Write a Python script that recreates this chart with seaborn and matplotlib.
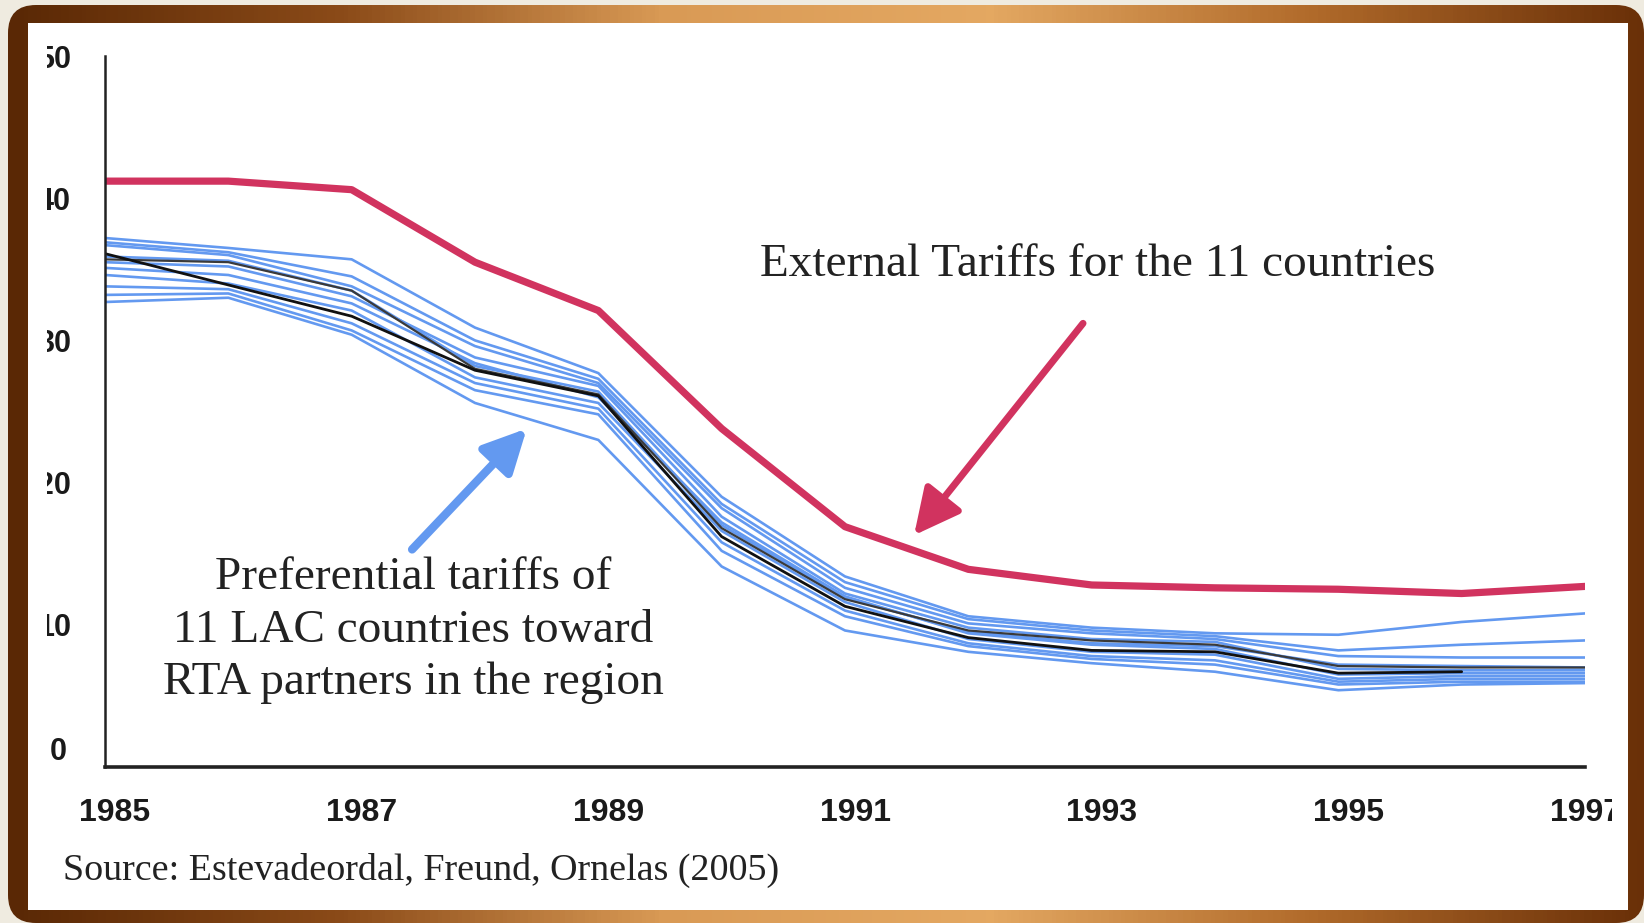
import numpy as np
import pandas as pd
import matplotlib
matplotlib.use('Agg')
import matplotlib.pyplot as plt
import seaborn as sns
from matplotlib.patches import FancyBboxPatch, Rectangle
from matplotlib.colors import LinearSegmentedColormap
from matplotlib.transforms import ScaledTranslation

years = list(range(1985, 1998))
tick_years = [1985, 1987, 1989, 1991, 1993, 1995, 1997]
y_ticks = [0, 10, 20, 30, 40, 50]

# external tariff (red) and regional average (black)
external = [41.2, 41.2, 40.6, 35.5, 32.1, 23.8, 16.9, 13.9, 12.8, 12.6, 12.5, 12.2, 12.7]
average = [36.1, 33.9, 31.7, 27.9, 26.1, 16.2, 11.3, 9.1, 8.2, 8.1, 6.6, 6.7, np.nan]

# preferential tariffs, one list per country
country_01 = [37.2, 36.5, 35.7, 30.9, 27.7, 19.0, 13.4, 10.6, 9.8, 9.4, 9.3, 10.2, 10.8]
country_02 = [36.9, 36.2, 34.5, 30.0, 27.3, 18.5, 13.0, 10.4, 9.6, 9.2, 8.2, 8.6, 8.9]
country_03 = [36.7, 36.0, 33.8, 29.6, 27.0, 18.2, 12.6, 10.1, 9.4, 9.0, 7.8, 7.7, 7.7]
country_04 = [35.9, 35.6, 33.5, 28.2, 26.4, 17.0, 11.9, 9.5, 8.7, 8.5, 7.2, 7.1, 7.0]
country_05 = [35.5, 35.2, 33.1, 28.8, 26.8, 17.6, 12.2, 9.8, 9.0, 8.8, 6.9, 6.8, 6.8]
country_06 = [35.1, 34.6, 32.6, 28.4, 26.0, 17.2, 12.0, 9.4, 8.6, 8.3, 6.5, 6.6, 6.6]
country_07 = [34.6, 34.0, 32.1, 27.4, 25.6, 16.6, 11.6, 9.0, 8.1, 7.9, 6.2, 6.4, 6.4]
country_08 = [33.8, 33.6, 31.2, 27.0, 25.2, 15.8, 11.0, 8.7, 7.8, 7.5, 6.0, 6.2, 6.2]
country_09 = [33.2, 33.3, 30.7, 26.5, 24.8, 15.2, 10.6, 8.5, 7.6, 7.2, 5.8, 6.0, 6.0]
country_10 = [32.7, 33.0, 30.4, 25.6, 23.0, 14.1, 9.6, 8.1, 7.3, 6.7, 5.4, 5.8, 5.9]
country_11 = [35.7, 35.5, 33.5, 28.0, 26.2, 16.8, 11.8, 9.6, 8.9, 8.6, 7.1, 7.0, 7.0]

blue_countries = [country_01, country_02, country_03, country_05, country_06,
                  country_07, country_08, country_09, country_10, country_04]

blue_df = pd.DataFrame({
    'year': years * len(blue_countries),
    'tariff': [v for c in blue_countries for v in c],
    'country': [i for i in range(len(blue_countries)) for _ in years],
})
dark_df = pd.DataFrame({'year': years, 'tariff': country_11})
avg_df = pd.DataFrame({'year': years, 'tariff': average}).dropna()
ext_df = pd.DataFrame({'year': years, 'tariff': external})

RED = '#d1335f'
BLUE = '#6399f0'
FRAME_RIGHT = '#6a3008'

sns.set_style('white')
plt.rcParams['font.family'] = ['Liberation Sans', 'DejaVu Sans']

W, H = 1644, 923
fig = plt.figure(figsize=(W / 100, H / 100), dpi=100)
fig.patch.set_facecolor('#efebe0')

# slide frame
bg = fig.add_axes([0, 0, 1, 1], zorder=-10)
bg.set_xlim(0, W)
bg.set_ylim(H, 0)
bg.axis('off')
frame_cmap = LinearSegmentedColormap.from_list(
    'frame', ['#5a2805', '#8a4a18', '#d99a55', '#e4a862', '#b06a2a', FRAME_RIGHT])
grad = np.linspace(0, 1, 400).reshape(1, -1)
im = bg.imshow(grad, cmap=frame_cmap, aspect='auto', extent=(8, W, H, 5))
outer = FancyBboxPatch((8, 5), W - 8, H - 5, boxstyle='round,pad=0,rounding_size=28',
                       facecolor='none', edgecolor='none', transform=bg.transData)
bg.add_patch(outer)
im.set_clip_path(outer)
bg.add_patch(Rectangle((28, 23), 1600, 887, facecolor='white', edgecolor='none'))

ax = fig.add_axes([105 / W, 1 - 767 / H, (1585 - 105) / W, (767 - 56) / H])
ax.set_facecolor('none')

sns.lineplot(data=blue_df, x='year', y='tariff', units='country', estimator=None,
             color=BLUE, lw=1.9, ax=ax, legend=False)
sns.lineplot(data=dark_df, x='year', y='tariff', color='#3a3a3a', lw=1.6, ax=ax)
sns.lineplot(data=avg_df, x='year', y='tariff', color='#111111', lw=2.0, ax=ax)
sns.lineplot(data=ext_df, x='year', y='tariff', color=RED, lw=5.2, ax=ax)

ax.set_xlim(1985, 1997)
ax.set_ylim(0, 50)
ax.set_xticks(tick_years)
ax.set_yticks(y_ticks)
ax.set_xticklabels([str(t) for t in tick_years], fontsize=23, fontweight='bold', color='#1a1a1a')
ax.set_yticklabels([''] + [str(t) for t in y_ticks[1:]], fontsize=22, fontweight='bold',
                   color='#1a1a1a')
ax.set_xlabel('')
ax.set_ylabel('')
for s in ['top', 'right']:
    ax.spines[s].set_visible(False)
ax.spines['left'].set_linewidth(1.8)
ax.spines['bottom'].set_linewidth(2.6)
ax.spines['left'].set_color('#222222')
ax.spines['bottom'].set_color('#222222')
ax.tick_params(axis='y', direction='out', length=6.5, width=1.8, pad=18)
ax.tick_params(axis='x', direction='out', length=7, width=1.8, pad=15)
for lab in ax.get_xticklabels()[:-1]:
    lab.set_transform(lab.get_transform() + ScaledTranslation(0.10, 0, fig.dpi_scale_trans))
# the zero label sits a little above its tick
ax.annotate('0', xy=(0, 0), xycoords='axes fraction', xytext=(-38, 15),
            textcoords='offset pixels', fontsize=22, fontweight='bold', color='#1a1a1a',
            ha='right', va='center', annotation_clip=False)

serif = ['Liberation Serif', 'DejaVu Serif']
ax.text(1993.05, 35.3, 'External Tariffs for the 11 countries', family=serif,
        fontsize=34, color='#222222', ha='center', va='center')
ax.text(1987.5, 9.6, 'Preferential tariffs of\n11 LAC countries toward\nRTA partners in the region',
        family=serif, fontsize=34, color='#222222', ha='center', va='center',
        linespacing=1.31)
fig.text(63 / W, 1 - 870 / H, 'Source: Estevadeordal, Freund, Ornelas (2005)', family=serif,
         fontsize=27.4, color='#222222', ha='left', va='center')

ax.annotate('', xy=(1991.56, 16.3), xytext=(1992.93, 31.2),
            arrowprops=dict(arrowstyle='-|>,head_length=1.4,head_width=0.7', lw=5,
                            color=RED, mutation_scale=20, shrinkA=0, shrinkB=0))
ax.annotate('', xy=(1988.42, 23.8), xytext=(1987.49, 15.3),
            arrowprops=dict(arrowstyle='-|>,head_length=1.3,head_width=0.65', lw=6,
                            color=BLUE, mutation_scale=20, shrinkA=0, shrinkB=0))

# edges of the pasted chart image cut the tick labels
fig.add_artist(Rectangle((28 / W, 0.3), 19 / W, 0.66, transform=fig.transFigure,
                         facecolor='white', edgecolor='none', zorder=20))
fig.add_artist(Rectangle((1612 / W, 1 - 840 / H), 16 / W, 60 / H, transform=fig.transFigure,
                         facecolor='white', edgecolor='none', zorder=20))
fig.add_artist(Rectangle((1628 / W, 1 - 840 / H), 16 / W, 60 / H, transform=fig.transFigure,
                         facecolor=FRAME_RIGHT, edgecolor='none', zorder=20))

plt.savefig('out.png', dpi=100)
plt.close()
